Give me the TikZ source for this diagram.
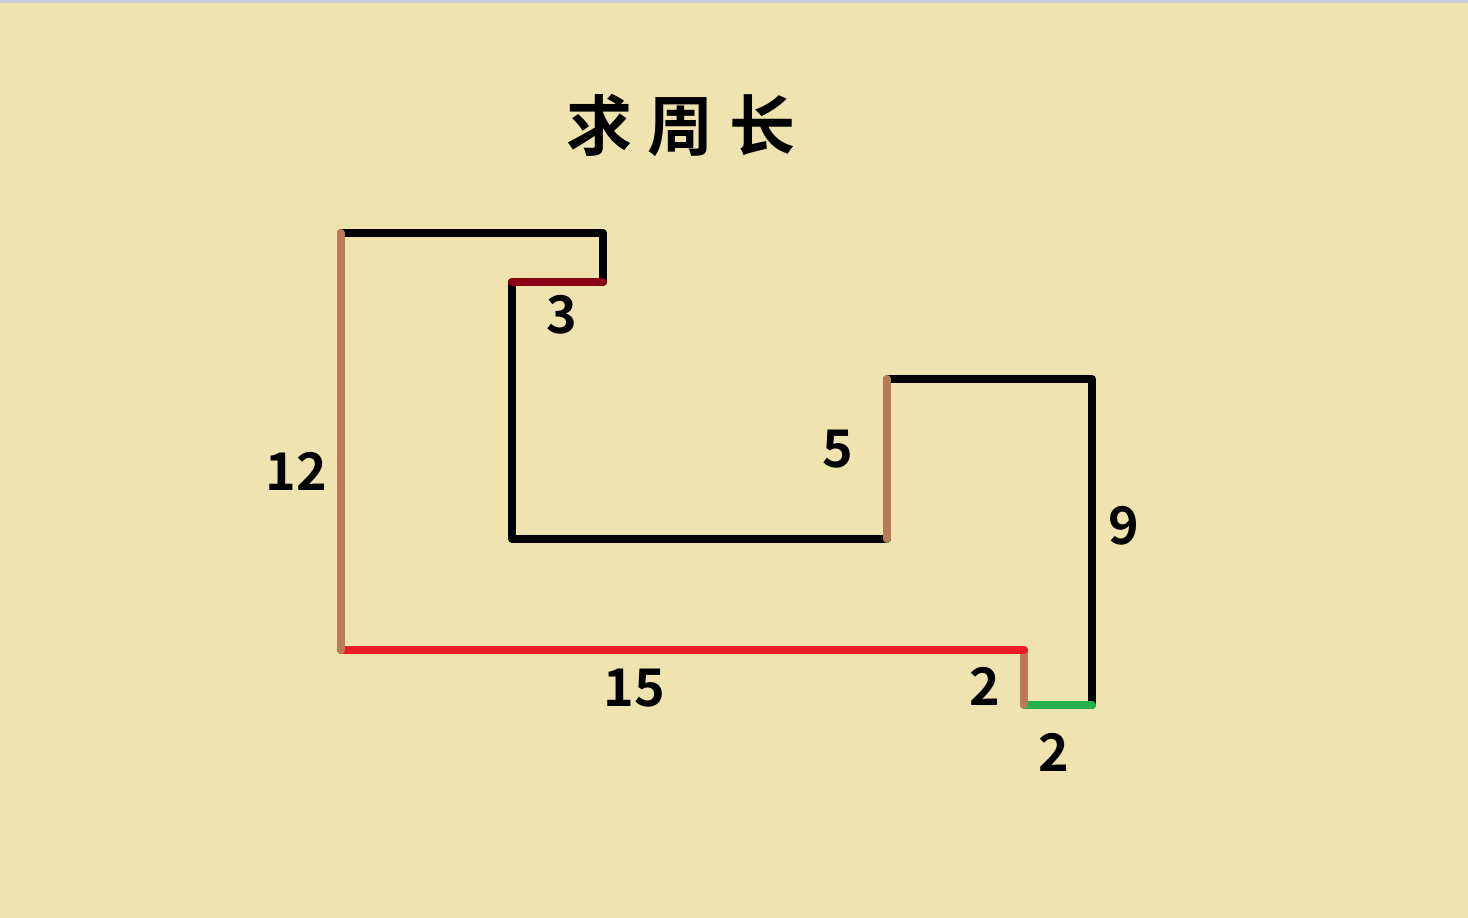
\documentclass[tikz,border=0pt]{standalone}
\usepackage{fontspec}
\newfontfamily\cjk{Noto Sans CJK SC}
\newfontfamily\cjkb{Noto Sans CJK SC Bold}
\definecolor{bg}{RGB}{239,228,176}
\definecolor{topline}{RGB}{200,205,218}
\definecolor{pbrown}{RGB}{185,122,87}
\definecolor{pred}{RGB}{237,28,36}
\definecolor{pdark}{RGB}{136,0,21}
\definecolor{pgreen}{RGB}{34,177,76}
\tikzset{
  edge/.style={line width=8pt, line cap=round, line join=round},
  num/.style={font=\cjkb\fontsize{52}{52}\selectfont, text=black, inner sep=0pt},
  ttl/.style={font=\cjkb\fontsize{66}{66}\selectfont, text=black, inner sep=0pt}
}
\begin{document}
\begin{tikzpicture}[x=1pt,y=-1pt]
\fill[bg] (0,0) rectangle (1468,918);
\useasboundingbox (0,0) rectangle (1468,918);
\fill[topline] (0,0) rectangle (1468,2.5);
\coordinate (A) at (341,233);
\coordinate (B) at (603,233);
\coordinate (C) at (603,282);
\coordinate (D) at (512,282);
\coordinate (E) at (512,539);
\coordinate (F) at (887,539);
\coordinate (G) at (887,379);
\coordinate (H) at (1092,379);
\coordinate (I) at (1092,705);
\coordinate (J) at (1024,705);
\coordinate (K) at (1024,650);
\coordinate (L) at (341,650);
% black edges
\draw[edge] (A) -- (B) -- (C);
\draw[edge] (D) -- (E) -- (F);
\draw[edge] (G) -- (H) -- (I);
% coloured edges
\draw[edge, pdark] (C) -- (D);
\draw[edge, pbrown] (F) -- (G);
\draw[edge, pgreen] (I) -- (J);
\draw[edge, pbrown] (J) -- (K);
\draw[edge, pred] (K) -- (L);
\draw[edge, pbrown] (L) -- (A);
% title
\node[ttl] (title) at (681,125) {求\hspace{16pt}周\hspace{16pt}长};
% labels
\node[num] (n3) at (562,315) {3};
\node[num] (n12) at (296,471) {12};
\node[num] (n5) at (838,449) {5};
\node[num] (n9) at (1124,526) {9};
\node[num] (n15) at (634,688) {15};
\node[num] (n2a) at (985,686) {2};
\node[num] (n2b) at (1054,752) {2};
\end{tikzpicture}
\end{document}
